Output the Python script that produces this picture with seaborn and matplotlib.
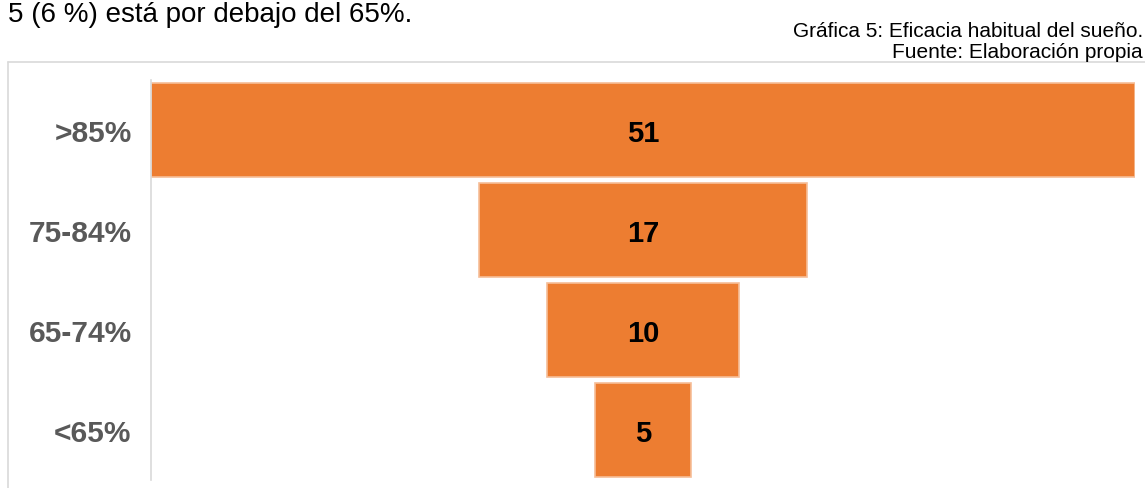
import matplotlib
matplotlib.use("Agg")
import matplotlib.pyplot as plt
from matplotlib.lines import Line2D
import seaborn as sns
import pandas as pd

# Sleep efficiency groups and number of people in each
categories = [">85%", "75-84%", "65-74%", "<65%"]
counts = [51, 17, 10, 5]

intro_text = "5 (6 %) está por debajo del 65%."
caption_lines = ["Gráfica 5: Eficacia habitual del sueño.", "Fuente: Elaboración propia"]

sns.set_style("white")
plt.rcParams["font.family"] = ["Liberation Sans", "DejaVu Sans"]

W, H = 1145, 489
fig = plt.figure(figsize=(W / 100, H / 100), dpi=100)
fig.patch.set_facecolor("white")

# axes placed in pixel terms
ax_left, ax_right, ax_top, ax_bottom = 151, 1135, 81, 481
ax = fig.add_axes([ax_left / W, 1 - ax_bottom / H,
                   (ax_right - ax_left) / W, (ax_bottom - ax_top) / H])

df = pd.DataFrame({"grupo": categories, "n": counts})
sns.barplot(data=df, x="n", y="grupo", orient="h", order=categories,
            color="#ED7D31", saturation=1, width=0.94,
            edgecolor="#F6BE98", linewidth=1.2, ax=ax)

# centre every bar to form a funnel
for patch, v in zip(ax.patches, counts):
    patch.set_x(-v / 2)
    patch.set_width(v)

half = max(counts) / 2
ax.set_xlim(-half, half)
ax.set_ylim(len(categories) - 0.5, -0.5)

for i, v in enumerate(counts):
    ax.text(0, i, str(v), ha="center", va="center_baseline", fontsize=21,
            fontweight="bold", color="black")

ax.set_xlabel("")
ax.set_ylabel("")
ax.set_xticks([])
ax.tick_params(axis="y", length=0, pad=14, labelsize=21.5, labelcolor="#595959")
for lbl in ax.get_yticklabels():
    lbl.set_fontweight("bold")
for side in ["top", "right", "bottom"]:
    ax.spines[side].set_visible(False)
ax.spines["left"].set_color("#D9D9D9")
ax.spines["left"].set_linewidth(1.2)
ax.set_facecolor("none")

# chart frame
frame_color = "#D9D9D9"
fig.add_artist(Line2D([7.5 / W, 7.5 / W], [0, 1 - 62.5 / H],
                      transform=fig.transFigure, color=frame_color, lw=1.2))
fig.add_artist(Line2D([7.5 / W, 1], [1 - 62.5 / H, 1 - 62.5 / H],
                      transform=fig.transFigure, color=frame_color, lw=1.2))

# surrounding text
fig.text(8 / W, 1 - 22 / H, intro_text, ha="left", va="baseline",
         fontsize=20, color="black")
fig.text(1143 / W, 1 - 37 / H, caption_lines[0], ha="right", va="baseline",
         fontsize=15, color="black")
fig.text(1143 / W, 1 - 58 / H, caption_lines[1], ha="right", va="baseline",
         fontsize=15, color="black")

fig.savefig("out.png", dpi=100, facecolor="white")
